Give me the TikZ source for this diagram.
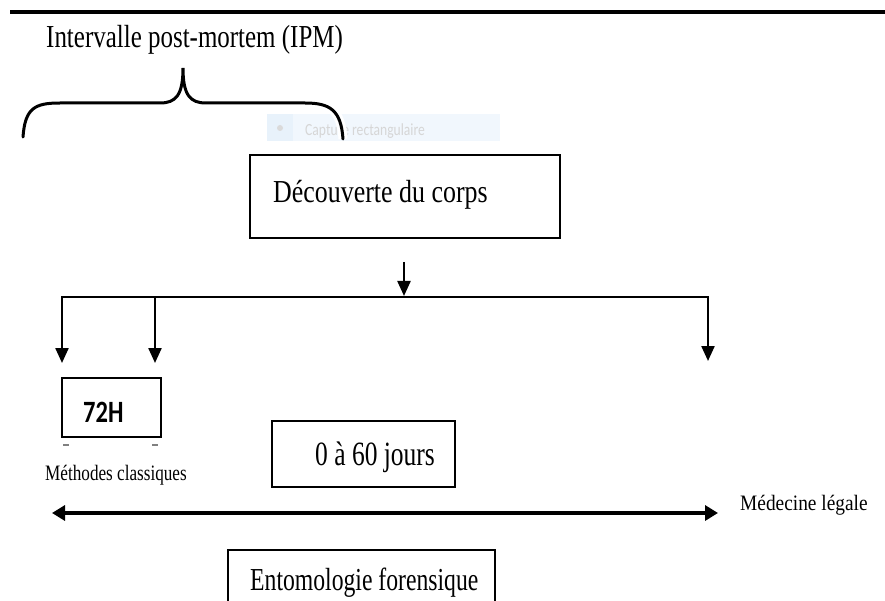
\documentclass[tikz,border=0pt]{standalone}
\usepackage{fontspec}
\setmainfont{Liberation Serif}
\newfontfamily\calib{Carlito}
\usetikzlibrary{arrows.meta}
\definecolor{ghostbg}{HTML}{F1F7FD}
\definecolor{ghostbgb}{HTML}{E8F2FB}
\definecolor{ghosttext}{HTML}{D6D6D6}
\definecolor{ghostdot}{HTML}{DADADA}
\begin{document}
\begin{tikzpicture}[x=1pt,y=-1pt,
  boxst/.style={draw, line width=2.3pt, inner sep=0pt},
  lbl/.style={anchor=base west, inner sep=0pt},
  bigtxt/.style={font=\fontsize{32}{32}\selectfont},
  smalltxt/.style={font=\fontsize{22}{22}\selectfont},
  conn/.style={line width=2.3pt, -{Triangle[length=15pt,width=13pt]}},
  bracest/.style={draw, black, line width=3pt, line cap=round, preaction={draw, white, line width=9pt}}
]
\useasboundingbox (0,0) rectangle (885,601);
\clip (0,0) rectangle (885,601);
\fill[white] (0,0) rectangle (885,601);
% top rule
\draw[line width=4pt] (10,12) -- (885,12);
% screenshot overlay
\fill[ghostbg] (267,114) rectangle (500,141);
\fill[ghostbgb] (267,114) rectangle (293,141);
\fill[ghostdot] (280,128) circle (3pt);
\node[lbl, text=ghosttext, font=\calib\fontsize{17}{17}\selectfont] (ghost) at (305,136) {\scalebox{0.8}[1]{Capture rectangulaire}};
% title and brace
\node[lbl, bigtxt] (ipm) at (46,48) {\scalebox{0.78}[1]{Intervalle post-mortem (IPM)}};
\path[bracest] (23,137) .. controls (25,108) and (35,103) .. (60,103) -- (160,103)
  .. controls (176,103) and (183,95) .. (183,68)
  .. controls (183,95) and (190,103) .. (206,103) -- (305,103)
  .. controls (330,103) and (341,110) .. (343,139);
% discovery box
\node[boxst, minimum width=310pt, minimum height=83pt] (dec) at (405,196.5) {};
\node[lbl, bigtxt] (dect) at (273,203) {\scalebox{0.81}[1]{Découverte du corps}};
% connectors
\coordinate (a0) at (404,262);
\coordinate (a1) at (404,296);
\draw[conn] (a0) -- (a1);
\coordinate (bl) at (62,297);
\coordinate (bm) at (155,297);
\coordinate (br) at (708,297);
\coordinate (tl) at (62,363);
\coordinate (tm) at (155,363);
\coordinate (tr) at (708,361);
\draw[line width=2.3pt, line cap=rect] (bl) -- (br);
\draw[conn] (bl) -- (tl);
\draw[conn] (bm) -- (tm);
\draw[conn] (br) -- (tr);
% 72H box
\node[boxst, minimum width=99pt, minimum height=59pt] (h72) at (111.5,407.5) {};
\node[lbl, font=\calib\bfseries\fontsize{31}{31}\selectfont] (h72t) at (83,422) {\scalebox{0.79}[1]{72H}};
\draw[line width=1.3pt, gray] (63,445) -- (69,445);
\draw[line width=1.3pt, gray] (152,445) -- (158,445);
\node[lbl, smalltxt] (meth) at (45,480) {\scalebox{0.78}[1]{Méthodes classiques}};
% 0 a 60 jours
\node[boxst, minimum width=183pt, minimum height=66pt] (jours) at (363.5,454) {};
\node[lbl, font=\fontsize{34}{34}\selectfont] (jourst) at (315,465) {\scalebox{0.75}[1]{0 à 60 jours}};
% double arrow
\coordinate (dl) at (52,513);
\coordinate (dr) at (718,513);
\draw[line width=3.5pt, {Triangle[length=13pt,width=15pt]}-{Triangle[length=13pt,width=15pt]}] (dl) -- (dr);
\node[lbl, smalltxt] (med) at (740,510) {\scalebox{0.88}[1]{Médecine légale}};
% entomologie
\node[boxst, minimum width=267pt, minimum height=70pt] (ento) at (361.5,585) {};
\node[lbl, bigtxt] (entot) at (250,590) {\scalebox{0.74}[1]{Entomologie forensique}};
\end{tikzpicture}
\end{document}
